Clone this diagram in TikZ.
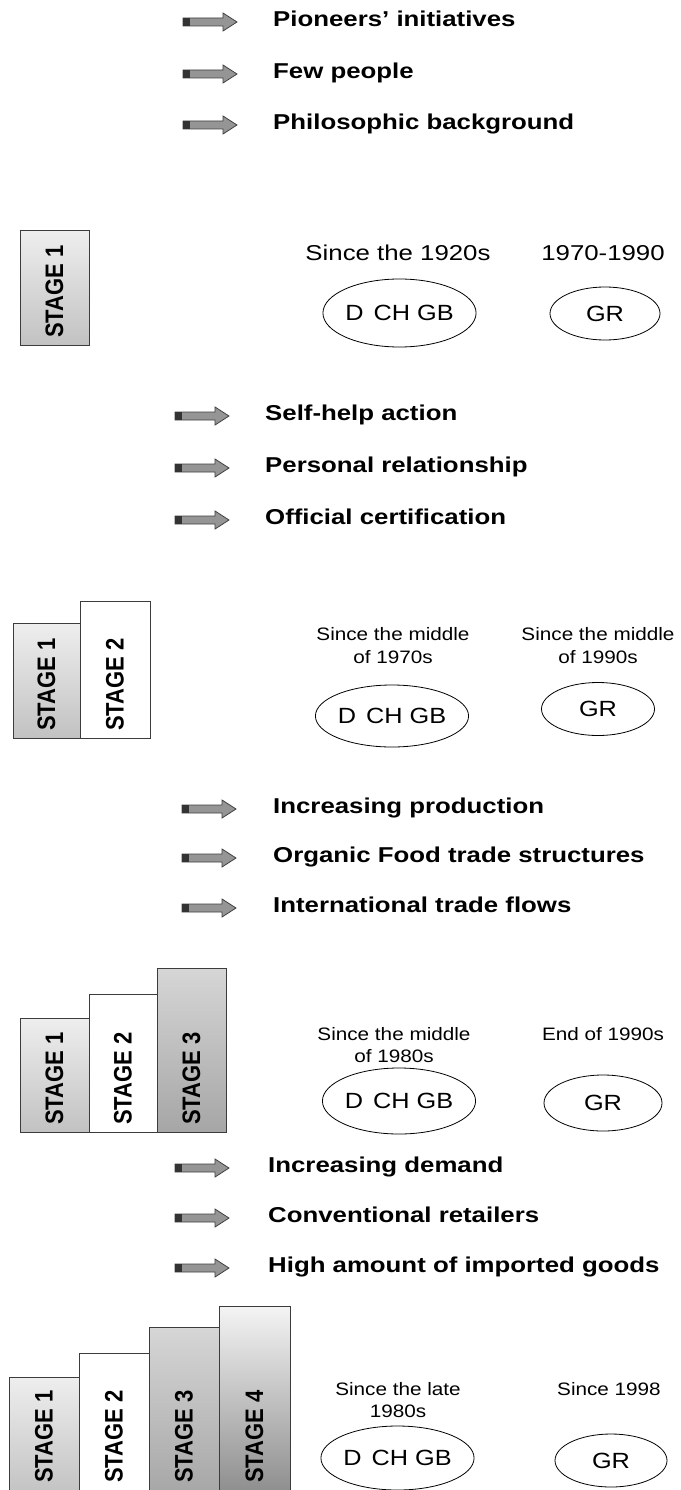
\documentclass[tikz,border=0pt]{standalone}
\usepackage{fontspec}
\usetikzlibrary{shapes.geometric}
\newfontfamily\hfont[FakeStretch=1.2]{Liberation Sans}
\newfontfamily\dfont[FakeStretch=1.2]{Liberation Sans}
\newfontfamily\sfont[FakeStretch=1.15]{Liberation Sans}
\newfontfamily\efont[FakeStretch=1.15]{Liberation Sans}
\newfontfamily\stfont{Liberation Sans Bold}
\definecolor{arrowgray}{HTML}{959595}
\definecolor{arrowline}{HTML}{404040}
\definecolor{arrowdark}{HTML}{333333}
\definecolor{stageline}{HTML}{3C3C3C}
\definecolor{sOneTop}{HTML}{EEEEEE}
\definecolor{sOneBot}{HTML}{C2C2C2}
\definecolor{sThreeTop}{HTML}{D6D6D6}
\definecolor{sThreeBot}{HTML}{A6A6A6}
\definecolor{sFourTop}{HTML}{F4F4F4}
\definecolor{sFourBot}{HTML}{8C8C8C}
\tikzset{
  garrow/.pic={
    \path[fill=arrowgray, draw=arrowline, line width=0.8pt]
      (0,-4) -- (40,-4) -- (40,-9) -- (54,0) -- (40,9) -- (40,4) -- (0,4) -- cycle;
    \path[fill=arrowdark] (0.4,-3.6) rectangle (7,3.6);
  },
  head/.style={anchor=base west, inner sep=0, font=\hfont\bfseries\fontsize{21.5}{24}\selectfont},
  dateA/.style={anchor=base, inner sep=0, font=\dfont\fontsize{21.5}{24}\selectfont},
  dateB/.style={anchor=base, inner sep=0, font=\sfont\fontsize{18}{20}\selectfont},
  country/.style={ellipse, draw=black, line width=0.8pt, inner sep=0, font=\efont\fontsize{22}{24}\selectfont},
  stagebox/.style={draw=stageline, line width=1pt},
  one/.style={stagebox, top color=sOneTop, bottom color=sOneBot},
  two/.style={stagebox, fill=white},
  three/.style={stagebox, top color=sThreeTop, bottom color=sThreeBot},
  four/.style={stagebox, top color=sFourTop, bottom color=sFourBot},
  stagelabel/.style={rotate=90, anchor=west, inner sep=0, font=\stfont\fontsize{22}{22}\selectfont},
}
\newcommand{\stagetext}[1]{\scalebox{1}[1.15]{STAGE #1}}
\newcommand{\dchgb}{D\hspace{0.45em}CH GB}
\begin{document}
\begin{tikzpicture}[x=1pt,y=-1pt]
\useasboundingbox[fill=white] (0,0) rectangle (680,1490);

% ---------------- Section 1 ----------------
\pic at (183,22) {garrow};
\pic at (183,74) {garrow};
\pic at (183,125) {garrow};
\node[head] (a1) at (273,27) {Pioneers’ initiatives};
\node[head] (a2) at (273,79) {Few people};
\node[head] (a3) at (273,130) {Philosophic background};

\path[one] (20,230) rectangle (89,345);
\node[stagelabel] (s11) at (54.5,338) {\stagetext{1}};

\node[dateA] (d11) at (398,260) {Since the 1920s};
\node[dateA] (d12) at (603,260) {1970-1990};
\node[country, minimum width=143, minimum height=68] (e11) at (399.5,313) {\dchgb};
\node[country, minimum width=110, minimum height=53] (e12) at (605,313.5) {GR};

% ---------------- Section 2 ----------------
\pic at (175,416) {garrow};
\pic at (175,468) {garrow};
\pic at (175,520) {garrow};
\node[head] (b1) at (265,420) {Self-help action};
\node[head] (b2) at (265,472) {Personal relationship};
\node[head] (b3) at (265,524) {Official certification};

\path[one] (13,623) rectangle (80,738);
\path[two] (80,601) rectangle (150,738);
\node[stagelabel] (s21) at (46.5,731) {\stagetext{1}};
\node[stagelabel] (s22) at (115,731) {\stagetext{2}};

\node[dateB] (d21) at (393,640) {Since the middle};
\node[dateB] (d21b) at (393,663) {of 1970s};
\node[dateB] (d22) at (598,640) {Since the middle};
\node[dateB] (d22b) at (598,663) {of 1990s};
\node[country, minimum width=147, minimum height=62] (e21) at (392,716) {\dchgb};
\node[country, minimum width=113, minimum height=53] (e22) at (598,709) {GR};

% ---------------- Section 3 ----------------
\pic at (182,809) {garrow};
\pic at (182,858) {garrow};
\pic at (182,908) {garrow};
\node[head] (c1) at (273,813) {Increasing production};
\node[head] (c2) at (273,862) {Organic Food trade structures};
\node[head] (c3) at (273,912) {International trade flows};

\path[one] (20,1018) rectangle (89,1132);
\path[two] (89,994) rectangle (157,1132);
\path[three] (157,968) rectangle (226,1132);
\node[stagelabel] (s31) at (54.5,1125) {\stagetext{1}};
\node[stagelabel] (s32) at (123,1125) {\stagetext{2}};
\node[stagelabel] (s33) at (191.5,1125) {\stagetext{3}};

\node[dateB] (d31) at (394,1040) {Since the middle};
\node[dateB] (d31b) at (394,1062) {of 1980s};
\node[dateB] (d32) at (603,1040) {End of 1990s};
\node[country, minimum width=148, minimum height=66] (e31) at (399,1101) {\dchgb};
\node[country, minimum width=118, minimum height=56] (e32) at (603,1103) {GR};

% ---------------- Section 4 ----------------
\pic at (175,1168) {garrow};
\pic at (175,1218) {garrow};
\pic at (175,1268) {garrow};
\node[head] (f1) at (268,1172) {Increasing demand};
\node[head] (f2) at (268,1222) {Conventional retailers};
\node[head] (f3) at (268,1272) {High amount of imported goods};

\path[one] (9,1377) rectangle (79,1496);
\path[two] (79,1353) rectangle (149,1496);
\path[three] (149,1327) rectangle (219,1496);
\path[four] (219,1306) rectangle (290,1496);
\node[stagelabel] (s41) at (44,1483) {\stagetext{1}};
\node[stagelabel] (s42) at (114,1483) {\stagetext{2}};
\node[stagelabel] (s43) at (184,1483) {\stagetext{3}};
\node[stagelabel] (s44) at (254.5,1483) {\stagetext{4}};

\node[dateB] (d41) at (398,1395) {Since the late};
\node[dateB] (d41b) at (398,1417) {1980s};
\node[dateB] (d42) at (609,1395) {Since 1998};
\node[country, minimum width=149, minimum height=64] (e41) at (397.5,1458) {\dchgb};
\node[country, minimum width=112, minimum height=53] (e42) at (611,1460.5) {GR};
\end{tikzpicture}
\end{document}
